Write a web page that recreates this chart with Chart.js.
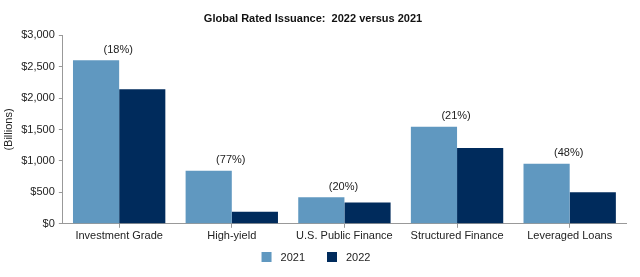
<!DOCTYPE html>
<html>
<head>
<meta charset="utf-8">
<script src="https://cdn.jsdelivr.net/npm/chart.js@4/dist/chart.umd.min.js"></script>
<style>
html,body{margin:0;padding:0;background:#fff;}
#wrap{width:640px;height:277px;position:relative;}
</style>
</head>
<body>
<div id="wrap"><canvas id="c" width="640" height="277"></canvas></div>
<script>
const categories = ['Investment Grade', 'High-yield', 'U.S. Public Finance', 'Structured Finance', 'Leveraged Loans'];
const values2021 = [2600, 845, 422, 1545, 955];
const values2022 = [2140, 190, 340, 1205, 500];
const changeLabels = ['(18%)', '(77%)', '(20%)', '(21%)', '(48%)'];
const yTicks = [0, 500, 1000, 1500, 2000, 2500, 3000];

const FONT = "'Liberation Sans', Arial, sans-serif";

const changePlugin = {
  id: 'changeLabels',
  afterDatasetsDraw(chart) {
    const ctx = chart.ctx;
    const xs = chart.scales.x, ys = chart.scales.y;
    ctx.save();
    ctx.font = '11px ' + FONT;
    ctx.fillStyle = '#222';
    ctx.textAlign = 'center';
    ctx.textBaseline = 'bottom';
    changeLabels.forEach((lab, i) => {
      const x = xs.getPixelForValue(i);
      const y = ys.getPixelForValue(values2021[i]) - 5;
      ctx.fillText(lab, x - 1, y);
    });
    ctx.restore();
  }
};

const legendPlugin = {
  id: 'customLegend',
  afterDraw(chart) {
    const ctx = chart.ctx;
    ctx.save();
    ctx.font = '11px ' + FONT;
    ctx.textBaseline = 'middle';
    const ds = chart.data.datasets;
    const box = 10, gap = 9, sep = 22;
    let total = 0;
    ds.forEach((d, i) => { total += box + gap + ctx.measureText(d.label).width + (i < ds.length - 1 ? sep : 0); });
    let x = chart.width / 2 - 4 - total / 2;
    const y = 257;
    ds.forEach((d, i) => {
      ctx.fillStyle = d.backgroundColor;
      ctx.fillRect(x, y - box / 2, box, box);
      x += box + gap;
      ctx.fillStyle = '#222';
      ctx.fillText(d.label, x, y + 0.5);
      x += ctx.measureText(d.label).width + sep;
    });
    ctx.restore();
  }
};

new Chart(document.getElementById('c'), {
  type: 'bar',
  data: {
    labels: categories,
    datasets: [
      { label: '2021', data: values2021, backgroundColor: '#6098c0', categoryPercentage: 0.82, barPercentage: 1.0 },
      { label: '2022', data: values2022, backgroundColor: '#002b5c', categoryPercentage: 0.82, barPercentage: 1.0 }
    ]
  },
  options: {
    responsive: false,
    animation: false,
    layout: { padding: { left: 0, right: 14, top: 0, bottom: 32 } },
    plugins: {
      title: {
        display: true,
        text: 'Global Rated Issuance:  2022 versus 2021',
        color: '#111',
        font: { family: FONT, size: 11, weight: 'bold' },
        padding: { top: 12, bottom: 10 }
      },
      legend: { display: false },
      tooltip: { enabled: false }
    },
    scales: {
      x: {
        grid: { display: true, drawOnChartArea: false, offset: false, tickLength: 4, color: '#999' },
        border: { color: '#999' },
        ticks: { color: '#222', font: { family: FONT, size: 11 }, padding: 2, maxRotation: 0 }
      },
      y: {
        min: 0, max: 3000,
        afterBuildTicks(axis) { axis.ticks = yTicks.map(v => ({ value: v })); },
        grid: { display: true, drawOnChartArea: false, tickLength: 4, color: '#999' },
        border: { color: '#999' },
        title: { display: true, text: '(Billions)', color: '#222', font: { family: FONT, size: 11 }, padding: 2 },
        ticks: {
          color: '#222', font: { family: FONT, size: 11 }, padding: 4,
          callback: v => '$' + Number(v).toLocaleString('en-US')
        }
      }
    }
  },
  plugins: [changePlugin, legendPlugin]
});
</script>
</body>
</html>
